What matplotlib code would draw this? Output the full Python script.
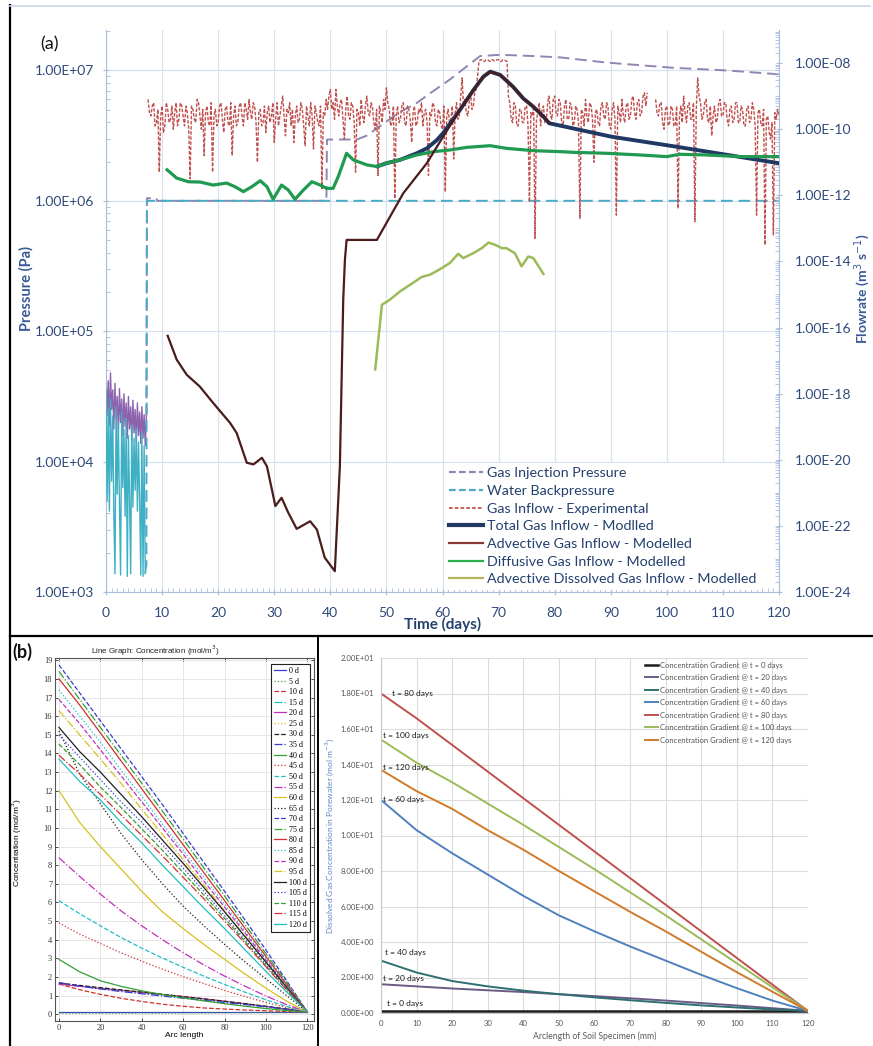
import numpy as np
import matplotlib
matplotlib.use("Agg")
import matplotlib.pyplot as plt
from matplotlib.lines import Line2D
from matplotlib.ticker import FixedLocator, FuncFormatter, MultipleLocator, NullFormatter

nan = float("nan")

# ------------------------------------------------------------------
# (a) gas injection test: pressures (Pa) and flow rates (m3/s)
# ------------------------------------------------------------------
# early pressure record, sampled every 0.2 day (log10 Pa)
early_step = 0.2
gip_early_logp = [4.70, 4.35, 4.62, 4.28, 4.68, 4.40, 4.55, 4.25, 4.60, 4.32,
                  4.50, 4.22, 4.56, 4.30, 4.48, 4.20, 4.52, 4.27, 4.45, 4.18,
                  4.50, 4.25, 4.42, 4.16, 4.47, 4.22, 4.40, 4.15, 4.45, 4.20,
                  4.38, 4.14, 4.42, 4.18, 4.36, 4.12, 4.35]
wbp_early_logp = [4.55, 3.70, 4.40, 3.62, 4.48, 3.85, 4.35, 3.60, 3.14, 4.42,
                  3.75, 4.30, 3.68, 3.13, 4.38, 3.80, 4.25, 3.58, 4.33, 3.12,
                  4.20, 3.72, 3.14, 4.28, 3.65, 4.18, 3.78, 4.25, 3.62, 4.15,
                  3.70, 3.13, 4.22, 3.12, 4.12, 3.14, 3.20]

# gas injection pressure after start of injection
gip_days = [7.2, 7.3, 9.0, 9.1, 39.3, 39.4, 44.7, 46.5, 49.4, 52.4, 55.4, 58.3,
            61.3, 64.3, 66.7, 70.3, 76.2, 81.0, 89.3, 101.2, 110.7, 120.0]
gip_logp = [4.35, 6.02, 6.02, 6.0, 6.0, 6.47, 6.47, 6.50, 6.59, 6.68, 6.75, 6.84,
            6.93, 7.03, 7.11, 7.12, 7.11, 7.10, 7.06, 7.02, 7.00, 6.97]

# water backpressure after start of test
wbp_days = [7.2, 7.3, 120.0]
wbp_logp = [3.20, 6.0, 6.0]

# measured gas inflow, every 0.25 day from day 7.5 (log10 m3/s)
exp_start, exp_step = 7.5, 0.25
exp_logq = [
    -9.1, -9.5, -9.6, -9.3, -9.2, -9.9, -9.8, -9.4, -11.3, -9.6, -9.3, -10.1, -9.9, -9.2, -9.4, -9.8, -9.7, -9.3, -10.0, -9.5,
    -9.2, -9.9, -9.7, -9.2, -9.3, -9.6, -9.9, -9.3, -9.5, -10.0, -11.5, -9.3, -9.4, -9.7, -9.8, -9.1, -9.2, -9.6, -10.0, -9.4,
    -10.8, -9.5, -9.3, -9.8, -9.9, -9.2, -11.3, -9.6, -9.4, -9.9, -9.8, -9.3, -9.2, -9.7, -10.1, -9.4, -9.3, -9.8, -9.9, -9.2,
    -10.8, -9.6, -9.3, -9.9, -9.8, -9.3, -9.2, -9.6, -9.9, -9.2, -9.4, -9.7, -9.1, -9.5, -9.7, -9.2, -9.3, -9.8, -11.0, -9.5,
    -9.4, -9.9, -9.8, -9.3, -10.1, -9.5, -9.3, -9.8, -9.6, -9.2, -10.4, -9.7, -9.2, -9.9, -9.6, -9.3, -9.0, -9.6, -10.2, -9.4,
    -9.5, -9.2, -9.9, -9.4, -10.4, -9.6, -9.3, -9.8, -9.7, -9.2, -9.4, -9.9, -10.5, -9.3, -9.6, -9.9, -9.2, -9.6, -10.6, -9.3,
    -9.5, -9.8, -9.9, -9.3, -11.8, -9.5, -9.6, -9.1, -9.4, -9.0, -8.8, -9.4, -9.2, -9.7, -8.8, -9.3, -9.6, -9.2, -9.1, -9.7,
    -10.3, -9.4, -9.0, -9.6, -9.7, -9.2, -9.3, -9.8, -11.3, -9.4, -9.5, -9.9, -9.1, -9.6, -9.8, -9.3, -9.0, -9.5, -9.6, -9.2,
    -9.3, -9.8, -10.0, -9.4, -11.4, -9.3, -9.5, -9.8, -9.1, -9.4, -8.75, -9.2, -9.4, -9.9, -9.8, -9.3, -12.1, -9.6, -9.3, -9.8,
    -9.7, -9.3, -9.2, -9.8, -9.9, -9.3, -9.4, -9.7, -10.4, -9.5, -9.3, -9.9, -9.8, -9.4, -9.5, -9.2, -9.9, -9.5, -9.4, -9.8,
    -11.4, -9.5, -9.6, -9.2, -9.3, -9.8, -9.9, -9.4, -9.5, -9.9, -10.0, -9.3, -11.9, -9.6, -9.4, -9.8, -9.7, -9.3, -10.9, -9.5,
    -9.2, -9.7, -9.6, -9.0, -8.45, -9.3, -9.1, -9.5, -9.6, -9.2, -8.9, -9.4, -9.3, -8.9, -8.8, -8.4, -7.95, -7.9, -7.9, -7.95,
    -7.95, -7.9, -7.9, -7.93, -7.95, -7.9, -7.9, -7.94, -7.92, -7.9, -7.9, -7.95, -7.95, -7.9, -7.9, -7.93, -7.95, -9.0, -9.2, -9.7,
    -9.8, -9.2, -9.3, -9.9, -9.9, -9.4, -9.4, -9.8, -9.8, -9.3, -9.3, -9.9, -12.2, -9.5, -9.6, -9.3, -13.3, -9.7, -9.5, -9.2,
    -9.9, -9.4, -9.3, -9.8, -9.8, -9.2, -9.0, -9.6, -9.7, -9.1, -9.0, -9.5, -9.6, -9.1, -9.2, -9.8, -9.9, -9.3, -9.1, -9.7,
    -9.7, -9.2, -9.3, -9.9, -9.8, -9.3, -9.4, -9.8, -12.7, -9.4, -9.5, -9.9, -9.1, -9.6, -9.8, -9.2, -9.3, -9.7, -11.0, -9.5,
    -9.4, -9.8, -9.9, -9.3, -9.2, -9.6, -9.7, -9.2, -9.3, -9.9, -10.0, -9.4, -9.2, -9.7, -12.6, -9.3, -9.5, -9.8, -9.1, -9.6,
    -9.8, -9.3, -9.2, -9.7, -9.6, -9.1, -9.0, -9.5, -9.7, -9.2, -9.1, -9.6, -9.5, -9.0, -8.9, -9.3, -8.9, nan, nan, nan,
    nan, nan, -9.1, -9.5, -9.6, -9.2, -9.2, -9.8, -10.0, -9.4, -9.3, -9.9, -9.8, -9.3, -9.4, -9.9, -9.9, -9.3, -12.4, -9.6,
    -9.3, -9.8, -9.0, -9.5, -9.8, -9.3, -9.2, -9.7, -9.7, -9.2, -12.8, -9.4, -8.45, -9.0, -9.2, -9.7, -9.6, -9.2, -9.1, -9.7,
    -9.8, -9.3, -10.2, -9.6, -9.3, -9.8, -9.7, -9.2, -9.1, -9.6, -9.6, -9.2, -9.2, -9.7, -9.9, -9.4, -9.3, -9.8, -9.7, -9.2,
    -9.2, -9.8, -9.8, -9.3, -9.4, -9.9, -9.9, -9.4, -9.3, -9.8, -9.7, -9.2, -9.4, -9.9, -12.6, -9.5, -9.4, -9.8, -9.9, -9.4,
    -13.5, -9.7, -9.6, -10.1, -10.3, -9.8, -13.2, -9.5, -9.7, -9.4, -9.6]

# modelled inflows (log10 m3/s)
total_days = [48.3, 50.0, 52.4, 55.4, 57.2, 59.0, 60.1, 63.1, 65.5, 67.3, 68.5,
              70.3, 72.6, 74.4, 76.2, 78.0, 79.0, 90.2, 101.7, 120.0]
total_logq = [-11.13, -11.03, -10.93, -10.73, -10.58, -10.33, -10.12, -9.42,
              -8.82, -8.41, -8.26, -8.36, -8.72, -9.07, -9.32, -9.62, -9.82,
              -10.23, -10.53, -11.03]

adv_days = [11.0, 12.6, 14.4, 16.7, 19.1, 20.6, 22.1, 23.3, 25.1, 26.3, 27.8,
            28.7, 30.2, 31.3, 32.5, 34.0, 36.4, 37.6, 39.0, 40.8, 41.7, 42.3,
            42.6, 42.9, 48.3, 53.0, 57.2, 60.1, 63.1, 65.5, 67.3, 68.5, 70.3,
            72.6, 74.4, 76.2, 78.0, 79.2]
adv_logq = [-16.25, -16.97, -17.43, -17.78, -18.28, -18.58, -18.88, -19.19,
            -20.09, -20.14, -19.94, -20.20, -21.40, -21.15, -21.60, -22.09,
            -21.86, -22.11, -22.96, -23.37, -20.20, -15.16, -13.95, -13.35,
            -13.35, -11.94, -11.03, -10.23, -9.42, -8.82, -8.41, -8.26, -8.36,
            -8.72, -9.07, -9.32, -9.62, -9.82]

diff_days = [10.9, 12.6, 14.7, 16.8, 19.1, 21.5, 23.0, 24.5, 26.0, 27.5, 28.7,
             29.8, 31.3, 32.5, 33.7, 35.2, 36.7, 38.2, 39.3, 40.5, 41.4, 42.9,
             44.1, 46.5, 48.3, 50.0, 52.4, 55.4, 58.4, 61.3, 64.3, 68.5, 71.4,
             76.2, 81.0, 83.3, 89.3, 95.2, 100.0, 102.3, 107.1, 113.0, 120.0]
diff_logq = [-11.23, -11.48, -11.59, -11.60, -11.69, -11.63, -11.74, -11.89,
             -11.74, -11.56, -11.74, -12.12, -11.69, -11.84, -12.12, -11.84,
             -11.59, -11.69, -11.79, -11.79, -11.44, -10.73, -10.93, -11.08,
             -11.13, -11.03, -10.93, -10.78, -10.68, -10.63, -10.55, -10.50,
             -10.58, -10.65, -10.68, -10.70, -10.73, -10.78, -10.83, -10.76,
             -10.78, -10.83, -10.83]

diss_days = [48.0, 49.2, 50.6, 52.4, 54.2, 56.3, 57.8, 59.6, 61.3, 62.8, 63.7,
             65.5, 67.0, 68.2, 69.4, 70.6, 71.4, 72.9, 74.1, 75.3, 76.2, 78.0]
diss_logq = [-17.27, -15.31, -15.16, -14.91, -14.71, -14.47, -14.40, -14.23,
             -14.05, -13.77, -13.90, -13.75, -13.60, -13.43, -13.50, -13.60,
             -13.60, -13.75, -14.15, -13.85, -13.90, -14.38]

# ------------------------------------------------------------------
# (b) dissolved gas concentration profiles along the specimen (mol/m3)
# ------------------------------------------------------------------
arc_mm = [0, 10, 20, 30, 40, 50, 60, 70, 80, 90, 100, 110, 120]
profile_days = [0, 5, 10, 15, 20, 25, 30, 35, 40, 45, 50, 55, 60, 65, 70, 75,
                80, 85, 90, 95, 100, 105, 110, 115, 120]
profiles = [
    [0.12, 0.12, 0.12, 0.12, 0.12, 0.12, 0.12, 0.12, 0.12, 0.12, 0.12, 0.12, 0.12],
    [0.06, 0.06, 0.06, 0.06, 0.06, 0.06, 0.07, 0.07, 0.08, 0.09, 0.10, 0.11, 0.12],
    [1.62, 1.32, 1.07, 0.86, 0.69, 0.54, 0.43, 0.34, 0.28, 0.23, 0.19, 0.15, 0.12],
    [1.64, 1.52, 1.40, 1.28, 1.16, 1.04, 0.92, 0.80, 0.68, 0.55, 0.42, 0.28, 0.12],
    [1.62, 1.50, 1.38, 1.28, 1.18, 1.06, 0.95, 0.83, 0.70, 0.56, 0.42, 0.27, 0.12],
    [1.66, 1.54, 1.42, 1.30, 1.19, 1.07, 0.95, 0.83, 0.70, 0.57, 0.43, 0.28, 0.12],
    [1.68, 1.55, 1.43, 1.31, 1.19, 1.07, 0.95, 0.83, 0.70, 0.57, 0.43, 0.28, 0.12],
    [1.70, 1.52, 1.36, 1.22, 1.10, 0.98, 0.86, 0.75, 0.63, 0.52, 0.40, 0.27, 0.12],
    [2.95, 2.28, 1.80, 1.50, 1.26, 1.06, 0.88, 0.72, 0.57, 0.43, 0.31, 0.20, 0.12],
    [4.90, 4.30, 3.80, 3.30, 2.85, 2.42, 2.02, 1.65, 1.28, 0.95, 0.64, 0.36, 0.12],
    [6.10, 5.40, 4.75, 4.12, 3.55, 3.02, 2.52, 2.05, 1.60, 1.18, 0.78, 0.42, 0.12],
    [8.40, 7.40, 6.45, 5.55, 4.75, 4.00, 3.30, 2.65, 2.05, 1.50, 0.98, 0.52, 0.12],
    [12.0, 10.3, 9.00, 7.80, 6.60, 5.50, 4.60, 3.75, 2.95, 2.15, 1.40, 0.70, 0.12],
    [15.2, 12.9, 11.3, 9.70, 8.30, 7.00, 5.80, 4.75, 3.75, 2.80, 1.90, 1.00, 0.12],
    [18.75, 17.25, 15.75, 14.25, 12.75, 11.25, 9.70, 8.15, 6.60, 5.05, 3.45, 1.80, 0.12],
    [18.40, 16.90, 15.40, 13.90, 12.40, 10.90, 9.40, 7.85, 6.35, 4.80, 3.25, 1.70, 0.12],
    [18.0, 16.6, 15.1, 13.6, 12.1, 10.6, 9.10, 7.60, 6.10, 4.60, 3.10, 1.60, 0.12],
    [17.4, 16.0, 14.6, 13.1, 11.7, 10.2, 8.80, 7.35, 5.90, 4.45, 3.00, 1.55, 0.12],
    [16.9, 15.6, 14.2, 12.8, 11.4, 10.0, 8.60, 7.15, 5.75, 4.35, 2.90, 1.50, 0.12],
    [16.3, 15.0, 13.7, 12.4, 11.0, 9.65, 8.30, 6.95, 5.55, 4.20, 2.80, 1.45, 0.12],
    [15.4, 14.1, 13.0, 11.8, 10.6, 9.35, 8.10, 6.80, 5.50, 4.15, 2.80, 1.45, 0.12],
    [15.0, 13.8, 12.6, 11.4, 10.3, 9.10, 7.85, 6.60, 5.30, 4.00, 2.70, 1.40, 0.12],
    [14.5, 13.4, 12.2, 11.1, 9.95, 8.80, 7.60, 6.40, 5.15, 3.90, 2.60, 1.35, 0.12],
    [13.9, 12.9, 11.8, 10.7, 9.60, 8.50, 7.35, 6.20, 5.00, 3.80, 2.55, 1.30, 0.12],
    [13.7, 12.5, 11.5, 10.3, 9.20, 8.00, 6.85, 5.70, 4.60, 3.45, 2.30, 1.20, 0.12],
]
gradient_days = [0, 20, 40, 60, 80, 100, 120]
gradient_colors = ["#1a1a1a", "#6a5a86", "#2f6f72", "#4f81bd", "#c0504d",
                   "#9bbb59", "#d07a2a"]

# ------------------------------------------------------------------
W, H = 873, 1046
fig = plt.figure(figsize=(W / 100, H / 100), dpi=100)


def fx(px):
    return px / W


def fy(py):
    return 1 - py / H


def box(l, t, r, b):
    return [fx(l), fy(b), fx(r) - fx(l), fy(t) - fy(b)]


SANS = ["Lato", "DejaVu Sans"]
TXT = "#2e4a7a"
AXC = "#a9bedb"
GRID = "#d8e1ee"

# ---------------- panel (a) ----------------
ax = fig.add_axes(box(106, 30, 779, 592))
ax.set_xlim(0, 120)
ax.set_yscale("log")
ax.set_ylim(1e3, 10 ** 7.31)
ax2 = ax.twinx()
ax2.set_yscale("log")
ax2.set_ylim(1e-24, 1e-7)

ax.grid(True, which="major", color=GRID, lw=0.9)
ax.set_axisbelow(True)
ax.xaxis.set_major_locator(MultipleLocator(10))
ax.xaxis.set_minor_locator(MultipleLocator(1))
ax.yaxis.set_major_locator(FixedLocator([1e3, 1e4, 1e5, 1e6, 1e7]))
ax.yaxis.set_minor_locator(FixedLocator(
    [m * 10 ** k for k in range(3, 8) for m in range(2, 10)]))
ax.yaxis.set_major_formatter(FuncFormatter(lambda v, _: f"{v:.2E}"))
ax.yaxis.set_minor_formatter(NullFormatter())
ax2.yaxis.set_major_locator(FixedLocator([10.0 ** k for k in range(-24, -7, 2)]))
ax2.yaxis.set_minor_locator(FixedLocator(
    [m * 10.0 ** k for k in range(-24, -7) for m in range(1, 10)
     if not (m == 1 and k % 2 == 0)]))
ax2.yaxis.set_major_formatter(FuncFormatter(lambda v, _: f"{v:.2E}"))
ax2.yaxis.set_minor_formatter(NullFormatter())

for a in (ax, ax2):
    for s in a.spines.values():
        s.set_color(AXC)
    a.spines["top"].set_visible(False)
ax.spines["right"].set_visible(False)
ax2.spines["left"].set_visible(False)
ax2.spines["bottom"].set_visible(False)

ax.tick_params(axis="both", which="major", colors=AXC, labelcolor=TXT,
               labelsize=10, direction="inout", length=5, pad=6)
ax.tick_params(axis="both", which="minor", colors=AXC, direction="in", length=3)
ax.tick_params(axis="x", which="major", pad=8)
ax2.tick_params(axis="y", which="major", colors=AXC, labelcolor=TXT,
                labelsize=10, direction="inout", length=5, pad=9)
ax2.tick_params(axis="y", which="minor", colors=AXC, direction="in", length=3)
for lab in ax.get_xticklabels() + ax.get_yticklabels() + ax2.get_yticklabels():
    lab.set_family(SANS)

ax.set_xlabel("Time (days)", fontsize=11, fontweight="bold", color="#23406e",
              family=SANS, labelpad=-1)
ax.set_ylabel("Pressure (Pa)", fontsize=10.5, fontweight="bold", color="#3a5a96",
              family=SANS)
ax.yaxis.set_label_coords(-0.107, 0.54)
ax2.set_ylabel("Flowrate (m$^3$ s$^{-1}$)", fontsize=10, fontweight="bold",
               color="#3a5a96", family=SANS, rotation=90)
ax2.yaxis.set_label_coords(1.108, 0.54)

purple = "#8f86b3"
teal = "#4babc6"
red = "#c0504d"

early_days = [early_step * i for i in range(len(gip_early_logp))]
ax.plot(early_days, 10 ** np.array(gip_early_logp), color="#8e63ad", lw=1.0, zorder=2)
ax.plot(early_days, 10 ** np.array(wbp_early_logp), color="#3fb0c4", lw=1.0, zorder=3)
ax.plot(gip_days, 10 ** np.array(gip_logp), color=purple, lw=1.4,
        ls=(0, (6, 3)), zorder=3)
ax.plot(wbp_days, 10 ** np.array(wbp_logp), color=teal, lw=1.4,
        ls=(3, (6, 3)), zorder=4)

exp_days = [exp_start + exp_step * i for i in range(len(exp_logq))]
ax2.plot(exp_days, 10 ** np.array(exp_logq), color=red, lw=1.0,
         ls=(0, (2.5, 1.2)), zorder=2)
ax2.plot(total_days, 10 ** np.array(total_logq), color="#1f3864", lw=2.8,
         solid_capstyle="round", zorder=3)
ax2.plot(diff_days, 10 ** np.array(diff_logq), color="#1f9a50", lw=2.3, zorder=4)
ax2.plot(adv_days, 10 ** np.array(adv_logq), color="#4a1c1c", lw=1.6, zorder=5)
ax2.plot(diss_days, 10 ** np.array(diss_logq), color="#9bbb59", lw=1.8, zorder=5)

handles = [
    Line2D([], [], color=purple, lw=1.6, ls=(0, (3, 1.5))),
    Line2D([], [], color=teal, lw=1.6, ls=(0, (3, 1.5))),
    Line2D([], [], color=red, lw=1.3, ls=(0, (2, 1.2))),
    Line2D([], [], color="#1f3864", lw=3.0),
    Line2D([], [], color="#8b3a3a", lw=1.6),
    Line2D([], [], color="#2db04b", lw=1.6),
    Line2D([], [], color="#b8b25c", lw=1.6),
]
labels = ["Gas Injection Pressure", "Water Backpressure", "Gas Inflow - Experimental",
          "Total Gas Inflow - Modlled", "Advective Gas Inflow - Modelled",
          "Diffusive Gas Inflow - Modelled",
          "Advective Dissolved Gas Inflow - Modelled"]
leg = ax2.legend(handles, labels, loc="lower left", bbox_to_anchor=(0.503, 0.004),
                 frameon=True, facecolor="white", edgecolor="none", framealpha=1,
                 fancybox=False, prop={"family": SANS, "size": 10.3},
                 labelcolor="#23406e", handlelength=2.4, handletextpad=0.3,
                 labelspacing=0.4, borderpad=0.3, borderaxespad=0)
leg.set_zorder(10)

fig.text(fx(40), fy(44), "(a)", fontsize=13, family=SANS, va="center", color="#111111")

# ---------------- panel (b), left: COMSOL line graph ----------------
axb = fig.add_axes(box(55, 658, 314, 1021))
axb.set_xlim(-1.9, 123.2)
axb.set_ylim(-0.36, 19.12)
c_cols = ["#3a3ad0", "#33a033", "#d03030", "#20c0c0", "#c030c0", "#d8c020", "#202020"]
c_styles = ["-", ":", "--", "-."]
for i, (d, prof) in enumerate(zip(profile_days, profiles)):
    axb.plot(arc_mm, prof, color=c_cols[i % 7], ls=c_styles[i % 4], lw=0.9,
             label=f"{d} d")
axb.xaxis.set_major_locator(MultipleLocator(20))
axb.yaxis.set_major_locator(MultipleLocator(1))
axb.grid(True, color="#e2e2e2", lw=0.6)
axb.set_axisbelow(True)
axb.tick_params(direction="in", top=True, right=True, length=2.5, width=0.6,
                labelsize=6, pad=2, colors="#333333")
for lab in axb.get_xticklabels() + axb.get_yticklabels():
    lab.set_family(["Liberation Serif", "DejaVu Serif"])
for s in axb.spines.values():
    s.set_color("#555555")
    s.set_linewidth(0.8)
axb.set_xlabel("Arc length", fontsize=6, labelpad=0, family=["Liberation Sans"])
axb.set_ylabel("Concentration (mol/m$^3$)", fontsize=6, family=["Liberation Sans"])
axb.yaxis.set_label_coords(-0.118, 0.49)
fig.text(fx(155), fy(651), "Line Graph: Concentration (mol/m$^3$)", fontsize=5.8,
         ha="center", va="center", family=["Liberation Sans"], color="#222222")
lb = axb.legend(loc="upper right", bbox_to_anchor=(0.985, 0.983),
                prop={"family": ["Liberation Serif"], "size": 5.8},
                frameon=True, fancybox=False, edgecolor="#222222", framealpha=1,
                handlelength=1.5, handletextpad=0.4, labelspacing=0.32,
                borderpad=0.35, borderaxespad=0)
lb.get_frame().set_linewidth(0.8)
fig.text(fx(12), fy(652), "(b)", fontsize=13, family=SANS, va="center",
         fontweight="bold", color="#111111")

# ---------------- panel (b), right: Excel chart ----------------
axc = fig.add_axes(box(381, 658, 808, 1013))
axc.set_xlim(0, 120)
axc.set_ylim(0, 20)
axc.xaxis.set_major_locator(MultipleLocator(10))
axc.yaxis.set_major_locator(MultipleLocator(2))
axc.yaxis.set_major_formatter(FuncFormatter(lambda v, _: f"{v:.2E}"))
axc.grid(True, color="#dcdcdc", lw=0.8)
axc.set_axisbelow(True)
for s in ("top", "right"):
    axc.spines[s].set_visible(False)
for s in ("left", "bottom"):
    axc.spines[s].set_color("#c8c8c8")
axc.tick_params(length=0, labelsize=5.6, labelcolor="#555555", pad=5)
for lab in axc.get_xticklabels() + axc.get_yticklabels():
    lab.set_family(SANS)

for d, col in zip(gradient_days, gradient_colors):
    prof = profiles[profile_days.index(d)]
    axc.plot(arc_mm, prof, color=col, lw=1.8 if d == 0 else 1.4,
             label=f"Concentration Gradient @ t = {d} days")

tag_pos = {80: (3.1, 18.0), 100: (0.6, 15.66), 120: (0.6, 13.85), 60: (0.6, 12.05),
           40: (1.1, 3.4), 20: (0.6, 1.95), 0: (1.7, 0.55)}
for d, (tx, ty) in tag_pos.items():
    axc.text(tx, ty, f"t = {d} days", fontsize=6, family=SANS, va="center",
             color="#1a1a1a")

axc.set_xlabel("Arclength of Soil Specimen (mm)", fontsize=6.2, color="#5a5a5a",
               family=SANS, labelpad=3)
axc.set_ylabel("Dissolved Gas Concentration in Porewater (mol m$^{-3}$)",
               fontsize=6, color="#5b86c0", family=SANS)
axc.yaxis.set_label_coords(-0.105, 0.5)
axc.legend(loc="upper left", bbox_to_anchor=(0.618, 0.99), frameon=False,
           prop={"family": SANS, "size": 5.5}, labelcolor="#555555",
           handlelength=1.7, handletextpad=0.25, labelspacing=0.72,
           borderaxespad=0, borderpad=0)

# ---------------- panel frames ----------------
fig.add_artist(Line2D([fx(10), fx(10)], [fy(5), 0], color="black", lw=1.6))
fig.add_artist(Line2D([fx(10), 1], [fy(636), fy(636)], color="black", lw=1.6))
fig.add_artist(Line2D([fx(318), fx(318)], [fy(636), 0], color="black", lw=1.4))
fig.add_artist(Line2D([fx(10), fx(870)], [fy(6), fy(6)], color="#c9d7ea", lw=1.2))

fig.savefig("out.png", dpi=100)
